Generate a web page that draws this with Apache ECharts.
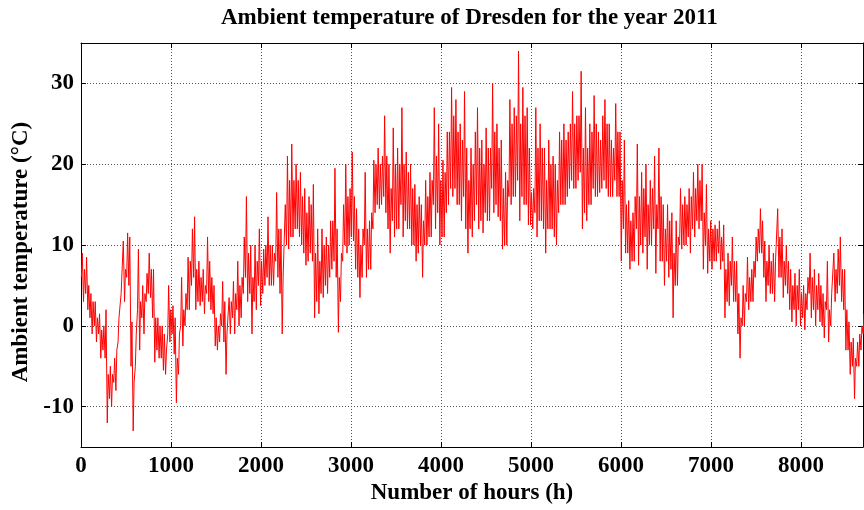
<!DOCTYPE html>
<html>
<head>
<meta charset="utf-8">
<script src="https://cdn.jsdelivr.net/npm/echarts@6/dist/echarts.min.js"></script>
<style>
  html, body { margin: 0; padding: 0; background: #fff; }
  #chart { width: 864px; height: 510px; }
</style>
</head>
<body>
<div id="chart"></div>
<script>
  // daily low / high, one pair per day (day 0 = hour 0)
  var dailyMin = [
    6, 3, 4, 2, 1, -1, 0, -2, -1, -4,
    -3, -4, -12, -9, -10, -7, -8, -2, 1, 4,
    3, 6, 5, -5, -13, -5, 2, -3, 1, -1,
    3, 4, 3.5, 1, -4.5, -3, -4, -4, -5.5, -6,
    -1, -2, -1, -3.5, -9.5, -6, 0, -2.5, 0, 2,
    2, 5, 6, 2, 3, 2.5, 3, 1.5, 4, 3,
    2, 1.5, -2.5, -3, -2, 0, -2, -6, -1, -1,
    1, -1, 2, 0, 1, 4, 6, 3, 4, -1,
    3, 2, 5, 2.5, 4, 5, 6, 5, 5, 5,
    8, 6, 4, -1, 6, 10, 9.5, 11, 11, 12,
    12, 11, 10, 9, 7.5, 8, 9, 8, 1, 3,
    1.5, 4, 3.5, 5, 4, 6, 7, 8, 6, -0.8,
    3, 8, 10, 9, 10, 11, 10.5, 7, 6, 3.5,
    6, 10, 6, 7, 7, 12, 14, 15, 14.5, 15,
    16, 14, 12, 9, 13, 11, 12, 12, 15, 11,
    13, 12, 12, 10, 10, 8, 9, 10, 6, 10,
    10, 11, 11, 15, 12, 14, 10, 11, 11, 14,
    15, 17, 16, 17, 15, 15, 13, 16, 12, 9,
    12, 11, 13, 15, 12, 13, 11.5, 14, 13, 13,
    17, 14, 15, 13.5, 13, 9.5, 10, 10, 16, 15,
    16, 16, 18, 13, 16, 15, 15, 12.5, 12.5, 12,
    14, 11, 13, 13, 12, 9, 12, 12, 12, 11,
    10, 14, 15, 15, 15, 16, 17, 18, 17, 17,
    18, 19, 12, 14, 13, 15, 15, 17, 16, 16,
    16.5, 17, 18, 17, 16, 16, 16, 18, 16, 16,
    8, 12, 9, 9, 7, 8, 8, 12, 7.5, 10,
    9, 11, 7, 10, 10, 12, 6.5, 12, 8, 8,
    5, 8, 6, 7, 1, 5, 5, 10, 9.5, 10,
    10, 11, 9, 12, 11, 13, 12, 13, 7, 10,
    6.5, 8, 7, 8, 8, 9, 7, 8, 1, 3,
    2.5, 5, 3, 3, -1, -4, 0, 0, 3, 2,
    3, 3, 6, 8, 9, 9, 6, 3, 5, 4,
    4, 3, 8, 6, 6, 3.5, 5, 4, 2, 0.5,
    2, 0, 2, 0, 1, -0.5, 2, 4, 1, 2,
    0, 2, 0.5, 0, -1.5, 2, -2, 0, 4, 3,
    4, 5, 3, 2, -3, -3, -6, -5, -9, -5,
    -5, -3, -1
  ]
  var dailyMax = [
    9, 7, 8.5, 5, 4, 3, 3, 1, 1.5, -0.5,
    0, 2, -6, -5, -6, -4, -3, 1, 4, 10.5,
    7, 11.5, 11, 0.5, -7, -1, 9.5, 3, 5, 4,
    6.5, 9, 7, 7, 1, 1, 0, 0, -1, -3,
    5, 2, 2.5, 1, -4, -1, 6, 2, 4, 8.5,
    8, 12, 13.5, 7, 8, 6, 7, 5, 11, 8,
    6, 5, 1, 0, 1.5, 5.5, 3, -1, 3.5, 3,
    5.5, 4, 8, 5, 6, 11, 16, 9, 10, 6,
    10, 8, 12, 8, 9.5, 10, 13.5, 10, 10, 9,
    16.5, 12, 12, 6, 15, 21, 18, 22.5, 18, 20,
    18, 19, 16, 17, 14, 16, 15, 17.5, 9, 12,
    8, 12, 10, 11, 10, 13, 13, 19.5, 12, 6,
    9, 15, 20, 16, 17, 21.5, 16, 14.5, 12, 10,
    12, 19, 12, 13, 14, 20.5, 20, 22, 20, 21,
    26, 21, 20, 17, 24.5, 20, 22, 20, 27, 20,
    21.5, 19, 20, 17, 17.5, 15, 16, 15, 13, 18,
    16, 19, 18, 27, 21, 25, 18, 20.5, 19, 24,
    24, 29.5, 26, 28, 24, 25, 23, 29, 22, 18,
    22, 20, 24, 27, 22, 23, 20, 24.5, 22, 22,
    30, 24, 25, 22, 23, 17, 19, 18, 28, 25,
    27, 26, 34, 25, 29.5, 26, 27, 22, 16.5, 17,
    27, 22, 25, 22, 22, 18, 23, 20, 21, 20,
    18, 24, 23, 25, 23, 24, 25, 29, 25, 26,
    26, 31.5, 22, 27, 22, 25, 24, 28.5, 25, 24,
    23, 26, 28, 25, 25, 23, 22, 27.5, 24, 24,
    18, 23, 15, 15.5, 13, 14, 16, 22.5, 16, 19,
    17, 20, 15, 18, 17, 21, 15, 22, 16, 15,
    12, 15, 13, 14, 9, 13, 11, 17, 15, 16,
    15, 17, 16, 19, 17, 20, 18, 20, 14, 17.5,
    12, 13, 12, 12.5, 12, 13, 11, 12.5, 7, 9,
    8, 11, 8, 8, 4, 1, 5, 4, 8.5, 6,
    7, 8, 11, 12, 14.5, 13, 10.5, 8, 10, 8,
    9, 8, 14.5, 11, 12, 8, 10, 8, 7, 5,
    6.5, 5, 7, 4, 5, 4, 6, 9, 6, 7,
    5, 6.5, 5, 4, 3, 8, 2, 4, 9, 7,
    9.5, 11, 7, 7, 2, 0.5, -2, -1.5, -4, -2,
    -1, 0, 1.5
  ]
  var xTicks = [0, 1000, 2000, 3000, 4000, 5000, 6000, 7000, 8000]
  var yTicks = [-10, 0, 10, 20, 30]

  // early-morning low, afternoon high for each day
  var points = []
  dailyMin.forEach(function (lo, d) {
    points.push([d * 24 + 4, lo])
    points.push([d * 24 + 14, dailyMax[d]])
  })

  var font = 'Liberation Serif'
  var gridLine = {
    show: true,
    lineStyle: { color: '#555', type: [1, 2], width: 1 }
  }
  var boxLine = { show: true, onZero: false, lineStyle: { color: '#000', width: 1 } }

  var myChart = echarts.init(document.getElementById('chart'))
  myChart.setOption({
    animation: false,
    backgroundColor: '#fff',
    title: {
      text: 'Ambient temperature of Dresden for the year 2011',
      left: 216,
      top: 2,
      textStyle: { fontFamily: font, fontWeight: 'bold', fontSize: 23, color: '#000' }
    },
    grid: { left: 81, right: 1, top: 43, bottom: 61 },
    xAxis: [{
      type: 'value',
      min: 0,
      max: 8690,
      name: 'Number of hours (h)',
      nameLocation: 'middle',
      nameGap: 33,
      nameTextStyle: { fontFamily: font, fontWeight: 'bold', fontSize: 23, color: '#000' },
      axisLine: boxLine,
      axisTick: { inside: true, length: 5, customValues: xTicks, lineStyle: { color: '#000' } },
      axisLabel: {
        customValues: xTicks,
        margin: 7,
        formatter: function (v) { return String(v) },
        fontFamily: font, fontWeight: 'bold', fontSize: 23, color: '#000'
      },
      splitLine: gridLine
    }, {
      type: 'value',
      position: 'top',
      min: 0,
      max: 8690,
      axisLine: boxLine,
      axisTick: { inside: true, length: 5, customValues: xTicks, lineStyle: { color: '#000' } },
      axisLabel: { show: false },
      splitLine: { show: false }
    }],
    yAxis: [{
      type: 'value',
      min: -15,
      max: 35,
      name: 'Ambient temperature (°C)',
      nameLocation: 'middle',
      nameGap: 46,
      nameTextStyle: { fontFamily: font, fontWeight: 'bold', fontSize: 23, color: '#000', padding: [0, 14, 0, 0] },
      axisLine: boxLine,
      axisTick: { inside: true, length: 5, customValues: yTicks, lineStyle: { color: '#000' } },
      axisLabel: { customValues: yTicks, margin: 7, fontFamily: font, fontWeight: 'bold', fontSize: 23, color: '#000' },
      splitLine: gridLine
    }, {
      type: 'value',
      position: 'right',
      min: -15,
      max: 35,
      axisLine: boxLine,
      axisTick: { inside: true, length: 5, customValues: yTicks, lineStyle: { color: '#000' } },
      axisLabel: { show: false },
      splitLine: { show: false }
    }],
    series: [{
      type: 'line',
      data: points,
      xAxisIndex: 0,
      yAxisIndex: 0,
      symbol: 'none',
      sampling: 'none',
      lineStyle: { color: '#ff0000', width: 1 }
    }]
  })
</script>
</body>
</html>
